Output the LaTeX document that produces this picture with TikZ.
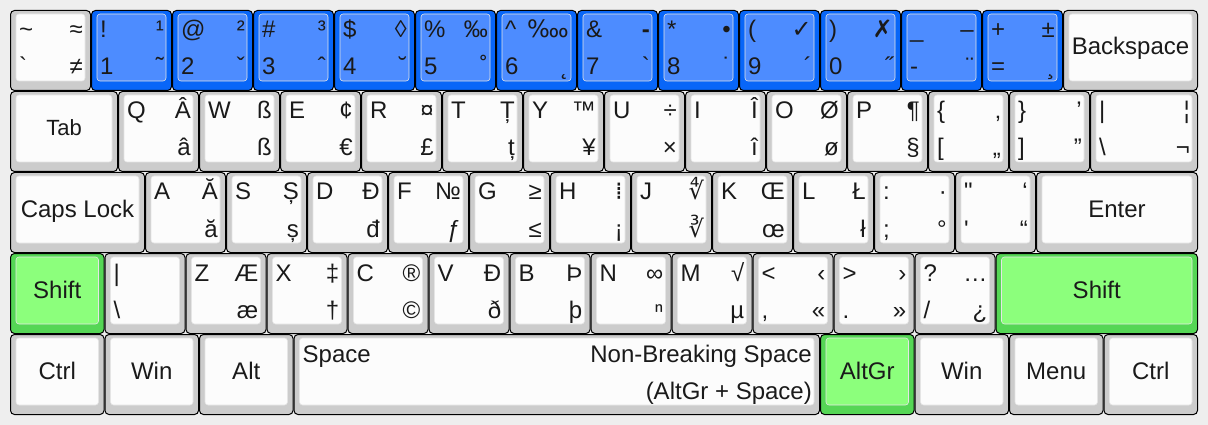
\documentclass[tikz,border=0pt]{standalone}
\usepackage{fontspec}
\newfontfamily\keyfont{Liberation Sans}
\newfontfamily\symfont{DejaVu Sans}
\usetikzlibrary{positioning,calc}
\definecolor{cBoard}{HTML}{EEEEEE}
\definecolor{cSide}{HTML}{CCCCCC}
\definecolor{cTop}{HTML}{FCFCFC}
\definecolor{cBlueSide}{HTML}{0866F8}
\definecolor{cBlueTop}{HTML}{4D8CFF}
\definecolor{cGreenSide}{HTML}{55D655}
\definecolor{cGreenTop}{HTML}{8CFF7C}
\definecolor{cInk}{HTML}{1A1A1A}

% key body: name, x, y, width in units, side colour, top colour
\newcommand\keycap[6]{%
  \node[keyside,fill=#5,minimum width=#4*81pt-1pt] (#1) at (#2+0.5,#3+0.5) {};
  \path[keytop,fill=#6] ($(#1.north west)+(5.5,3.5)$) rectangle ($(#1.south east)+(-5.5,-9.5)$);}
\newcommand\keytl[2]{\node[lbl,anchor=base west] (#1-tl) at ($(#1.north west)+(8.5,27.5)$) {#2};}
\newcommand\keytr[2]{\node[lbl,anchor=base east] (#1-tr) at ($(#1.north east)+(-7.5,27.5)$) {#2};}
\newcommand\keybl[2]{\node[lbl,anchor=base west] (#1-bl) at ($(#1.south west)+(8.5,-15.5)$) {#2};}
\newcommand\keybr[2]{\node[lbl,anchor=base east] (#1-br) at ($(#1.south east)+(-7.5,-15.5)$) {#2};}
\newcommand\keymid[2]{\node[lbl,anchor=base] (#1-l) at ($(#1.north)+(0,44.5)$) {#2};}

\begin{document}
\begin{tikzpicture}[x=1pt,y=-1pt,
    keyside/.style={draw=black,line width=1pt,rounded corners=4pt,anchor=north west,
      minimum height=80pt,inner sep=0pt,outer sep=0pt},
    keytop/.style={draw=black!10,line width=0.6pt,rounded corners=3pt},
    lbl/.style={inner sep=0pt,text=cInk,font=\keyfont\fontsize{24}{24}\selectfont}]
  \path[fill=cBoard] (0,0) rectangle (1208,425);

  % number row
  \keycap{tilde}{10}{10}{1}{cSide}{cTop}
  \keytl{tilde}{\textasciitilde}\keytr{tilde}{≈}\keybl{tilde}{`}\keybr{tilde}{≠}
  \foreach \n/\tl/\tr/\bl/\br [count=\i from 0] in {one/!/¹/1/˜, two/@/²/2/ˇ, three/\#/³/3/ˆ,
      four/\$/◊/4/˘, five/\%/‰/5/˚, six/\textasciicircum/{\symfont ‱}/6/˛, seven/\&/\textbf{-}/7/`,
      eight/*/•/8/˙, nine/{(}/{\symfont ✓}/9/´, zero/{)}/{\symfont ✗}/0/˝, minus/\_/–/-/¨,
      equal/+/±/=/¸}{
    \keycap{\n}{91+\i*81}{10}{1}{cBlueSide}{cBlueTop}
    \keytl{\n}{\tl}\keytr{\n}{\tr}\keybl{\n}{\bl}\keybr{\n}{\br}
  }
  \keycap{bksp}{1063}{10}{5/3}{cSide}{cTop}
  \keymid{bksp}{Backspace}

  % top letter row
  \keycap{tab}{10}{91}{4/3}{cSide}{cTop}
  \node[lbl,anchor=base,font=\keyfont\fontsize{22}{22}\selectfont] (tab-l) at ($(tab.north)+(0,44)$) {Tab};
  \foreach \n/\tl/\tr/\br [count=\i from 0] in {q/Q/Â/â, w/W/ß/ß, e/E/¢/€, r/R/¤/£, t/T/Ț/ț,
      y/Y/™/¥, u/U/÷/×, i/I/Î/î, o/O/Ø/ø, p/P/¶/§}{
    \keycap{\n}{118+\i*81}{91}{1}{cSide}{cTop}
    \keytl{\n}{\tl}\keytr{\n}{\tr}\keybr{\n}{\br}
  }
  \foreach \n/\tl/\tr/\bl/\br [count=\i from 0] in {lbrace/\{/‚/{[}/„, rbrace/\}/’/{]}/”}{
    \keycap{\n}{928+\i*81}{91}{1}{cSide}{cTop}
    \keytl{\n}{\tl}\keytr{\n}{\tr}\keybl{\n}{\bl}\keybr{\n}{\br}
  }
  \keycap{bslash}{1090}{91}{4/3}{cSide}{cTop}
  \keytl{bslash}{|}\keytr{bslash}{¦}\keybl{bslash}{\textbackslash}\keybr{bslash}{¬}

  % home row
  \keycap{caps}{10}{172}{5/3}{cSide}{cTop}
  \keymid{caps}{Caps Lock}
  \foreach \n/\tl/\tr/\br [count=\i from 0] in {a/A/Ă/ă, s/S/Ș/ș, d/D/Đ/đ, f/F/№/ƒ, g/G/≥/≤,
      h/H/{\symfont ⁞}/¡, j/J/{\symfont ∜}/{\symfont ∛}, k/K/Œ/œ, l/L/Ł/ł}{
    \keycap{\n}{145+\i*81}{172}{1}{cSide}{cTop}
    \keytl{\n}{\tl}\keytr{\n}{\tr}\keybr{\n}{\br}
  }
  \foreach \n/\tl/\tr/\bl/\br [count=\i from 0] in {semi/:/·/;/°, quote/"/‘/'/“}{
    \keycap{\n}{874+\i*81}{172}{1}{cSide}{cTop}
    \keytl{\n}{\tl}\keytr{\n}{\tr}\keybl{\n}{\bl}\keybr{\n}{\br}
  }
  \keycap{enter}{1036}{172}{2}{cSide}{cTop}
  \keymid{enter}{Enter}

  % bottom letter row
  \keycap{lshift}{10}{253}{7/6}{cGreenSide}{cGreenTop}
  \keymid{lshift}{Shift}
  \keycap{iso}{104.5}{253}{1}{cSide}{cTop}
  \keytl{iso}{|}\keybl{iso}{\textbackslash}
  \foreach \n/\tl/\tr/\br [count=\i from 0] in {z/Z/Æ/æ, x/X/‡/†, c/C/®/©, v/V/Đ/ð, b/B/Þ/þ,
      n/N/∞/ⁿ, m/M/√/µ}{
    \keycap{\n}{185.5+\i*81}{253}{1}{cSide}{cTop}
    \keytl{\n}{\tl}\keytr{\n}{\tr}\keybr{\n}{\br}
  }
  \foreach \n/\tl/\tr/\bl/\br [count=\i from 0] in {less/</‹/{,}/«, greater/>/›/./»,
      slash/?/…/{/}/¿}{
    \keycap{\n}{752.5+\i*81}{253}{1}{cSide}{cTop}
    \keytl{\n}{\tl}\keytr{\n}{\tr}\keybl{\n}{\bl}\keybr{\n}{\br}
  }
  \keycap{rshift}{995.5}{253}{2.5}{cGreenSide}{cGreenTop}
  \keymid{rshift}{Shift}

  % modifier row
  \keycap{lctrl}{10}{334}{7/6}{cSide}{cTop}\keymid{lctrl}{Ctrl}
  \keycap{lwin}{104.5}{334}{7/6}{cSide}{cTop}\keymid{lwin}{Win}
  \keycap{alt}{199}{334}{7/6}{cSide}{cTop}\keymid{alt}{Alt}
  \keycap{space}{293.5}{334}{6.5}{cSide}{cTop}
  \keytl{space}{Space}\keytr{space}{Non-Breaking Space}\keybr{space}{(AltGr + Space)}
  \keycap{altgr}{820}{334}{7/6}{cGreenSide}{cGreenTop}\keymid{altgr}{AltGr}
  \keycap{rwin}{914.5}{334}{7/6}{cSide}{cTop}\keymid{rwin}{Win}
  \keycap{menu}{1009}{334}{7/6}{cSide}{cTop}\keymid{menu}{Menu}
  \keycap{rctrl}{1103.5}{334}{7/6}{cSide}{cTop}\keymid{rctrl}{Ctrl}
\end{tikzpicture}
\end{document}
